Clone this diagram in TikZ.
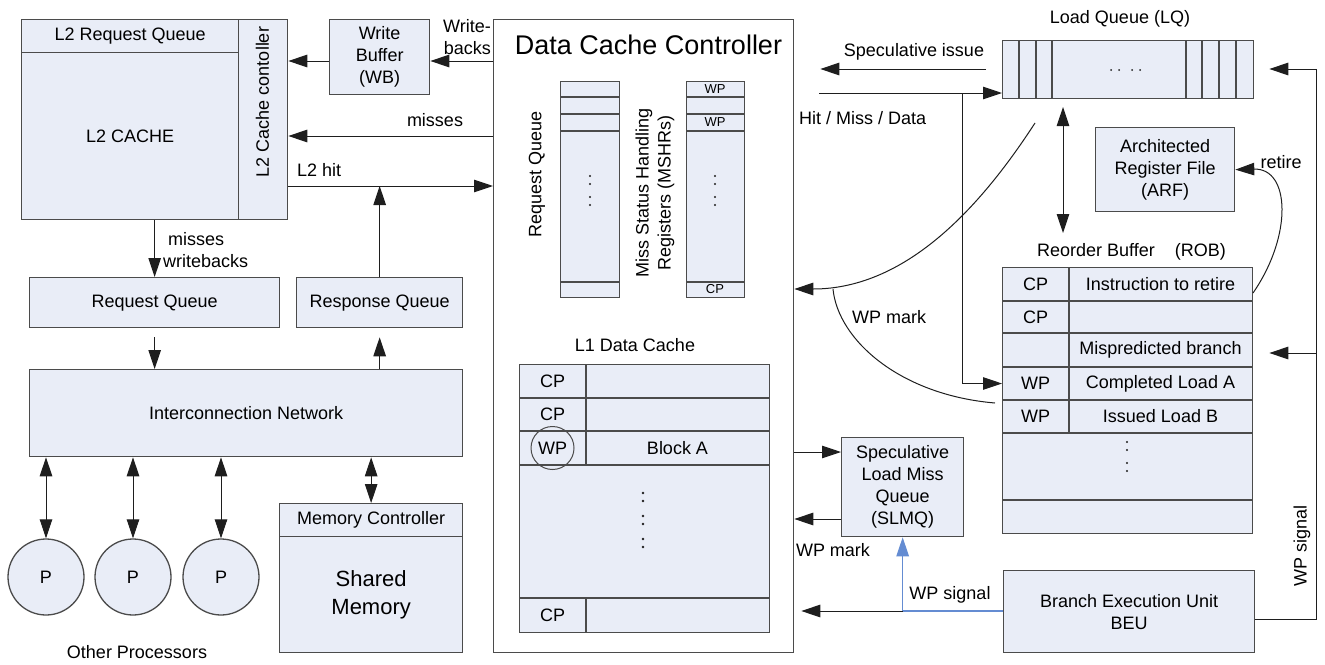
\documentclass[tikz,border=0pt]{standalone}
\usepackage{fontspec}
\setmainfont{Liberation Sans}
\usetikzlibrary{arrows.meta,calc}
\definecolor{boxfill}{RGB}{233,237,247}
\definecolor{boxline}{RGB}{75,75,75}
\definecolor{wirec}{RGB}{30,30,30}
\definecolor{bluewirec}{RGB}{100,140,210}
\tikzset{
  box/.style={draw=boxline, line width=1.3pt, fill=boxfill, inner sep=0pt, anchor=north west},
  proc/.style={circle, draw=boxline, line width=1.3pt, fill=boxfill, inner sep=0pt, minimum size=76pt},
  plain/.style={draw=none, fill=none, inner sep=0pt},
  small/.style={plain, font=\fontsize{13}{15}\selectfont},
  rowline/.style={draw=boxline, line width=1.2pt},
  wire/.style={draw=wirec, line width=1pt},
  arr/.style={wire, -{Triangle[length=19pt,width=12.5pt]}},
  darr/.style={wire, {Triangle[length=19pt,width=12.5pt]}-{Triangle[length=19pt,width=12.5pt]}},
  bluewire/.style={draw=bluewirec, line width=1.2pt},
  bluearr/.style={bluewire, -{Triangle[length=19pt,width=12.5pt]}},
}
\begin{document}
\begin{tikzpicture}[x=1pt, y=-1pt, font=\fontsize{18}{22}\selectfont]
\useasboundingbox (0,0) rectangle (1325,664);

% ---------- L2 block ----------
\node[box, minimum width=217pt, minimum height=33pt] (l2rq) at (21,19) {L2 Request Queue};
\node[box, minimum width=217pt, minimum height=167pt] (l2c) at (21,52) {L2 CACHE};
\node[box, minimum width=49pt, minimum height=200pt] (l2cc) at (238,19) {};
\node[plain, rotate=90] (l2cct) at (262.5,102) {L2 Cache contoller};

% ---------- Write buffer ----------
\node[box, minimum width=100pt, minimum height=75pt, align=center] (wb) at (329,19) {Write\\Buffer\\(WB)};

% ---------- Data cache controller ----------
\node[box, fill=white, minimum width=300pt, minimum height=633pt] (dcc) at (493,19) {};
\node[plain, font=\fontsize{27}{32}\selectfont] (dcct) at (648.5,45) {Data Cache Controller};

\node[box, minimum width=59pt, minimum height=216pt] (drq) at (560,81) {};
\foreach \y in {97,114,131,282} \draw[rowline] (560,\y) -- (619,\y);
\foreach \y in {176,184,197,205} \fill[wirec] (590,\y) circle (1.2pt);
\node[plain, rotate=90] (drqt) at (537,174) {Request Queue};

\node[box, minimum width=58pt, minimum height=216pt] (mshr) at (686,81) {};
\foreach \y in {97,114,131,282} \draw[rowline] (686,\y) -- (744,\y);
\foreach \y in {176,184,197,205} \fill[wirec] (715,\y) circle (1.2pt);
\node[small] (m1) at (715,89) {WP};
\node[small] (m3) at (715,122.5) {WP};
\node[small] (m9) at (715,289.5) {CP};
\node[plain, rotate=90, align=center] (mshrt) at (655,193) {Miss Status Handling\\Registers (MSHRs)};

% L1 data cache
\node[plain] (l1t) at (635,345) {L1 Data Cache};
\node[box, minimum width=250pt, minimum height=268pt] (l1) at (519,364) {};
\foreach \y in {398,431,465,598} \draw[rowline] (519,\y) -- (769,\y);
\draw[rowline] (586,364) -- (586,465);
\draw[rowline] (586,598) -- (586,632);
\node[plain] (c1) at (552.5,381) {CP};
\node[plain] (c2) at (552.5,414.5) {CP};
\node[plain] (c3) at (552.5,448) {WP};
\draw[boxline, line width=1pt] (552.5,448) circle (21.5pt);
\node[plain] (c3b) at (677.5,448) {Block A};
\node[plain] (c9) at (552.5,615) {CP};
\foreach \y in {493,501,516,524,539,547} \fill[wirec] (643,\y) circle (1.3pt);

% ---------- lower left ----------
\node[box, minimum width=250pt, minimum height=50pt] (rqL) at (29,277) {Request Queue};
\node[box, minimum width=166pt, minimum height=50pt] (resp) at (296,277) {Response Queue};
\node[box, minimum width=433pt, minimum height=87pt] (net) at (29,369) {Interconnection Network};
\node[proc] (p1) at (46,577) {P};
\node[proc] (p2) at (133,577) {P};
\node[proc] (p3) at (221,577) {P};
\node[plain] (opt) at (137,652) {Other Processors};
\node[box, minimum width=183pt, minimum height=33pt] (mc) at (279,503) {Memory Controller};
\node[box, minimum width=183pt, minimum height=116pt, align=center, font=\fontsize{22}{28}\selectfont] (sm) at (279,536) {Shared\\Memory};

% ---------- connectors left ----------
\coordinate (yWB) at (0,61);
\coordinate (yMiss) at (0,136);
\coordinate (yHit) at (0,186);
\draw[arr] (dcc.west |- yWB) -- (wb.east |- yWB);
\draw[arr] (wb.west |- yWB) -- (l2cc.east |- yWB);
\draw[arr] (dcc.west |- yMiss) -- (l2cc.east |- yMiss);
\draw[arr] (l2cc.east |- yHit) -- (dcc.west |- yHit);
\draw[arr] (resp.north) -- (resp.north |- yHit);
\draw[arr] (rqL.north |- l2c.south) -- (rqL.north);
\draw[arr, shorten <=9pt] (rqL.south) -- (rqL.south |- net.north);
\draw[arr, shorten >=9pt] (resp.south |- net.north) -- (resp.south);
\draw[darr] (p1.north |- net.south) -- (p1.north);
\draw[darr] (p2.north |- net.south) -- (p2.north);
\draw[darr] (p3.north |- net.south) -- (p3.north);
\draw[darr] (mc.north |- net.south) -- (mc.north);

\node[plain, align=right, anchor=east] (wbl) at (491,37) {Write-\\backs};
\node[plain] (missl) at (435,120) {misses};
\node[plain, anchor=west] (hitl) at (297,170) {L2 hit};
\node[plain, anchor=west] (mwl1) at (168,239) {misses};
\node[plain, anchor=west] (mwl2) at (163,261) {writebacks};

% ---------- right side ----------
\node[plain] (lqt) at (1120,19) {Load Queue (LQ)};
\node[box, minimum width=251pt, minimum height=58pt] (lq) at (1002,40) {};
\foreach \x in {1019,1036,1052,1186,1202,1219,1236} \draw[rowline] (\x,40) -- (\x,98);
\foreach \x in {1111,1119,1132,1140} \fill[wirec] (\x,70) circle (1pt);

\node[box, minimum width=139pt, minimum height=84pt, align=center] (arf) at (1095,127) {Architected\\Register File\\(ARF)};

\node[plain] (robt) at (1131.5,252) {Reorder Buffer\hspace{20pt}(ROB)};
\node[box, minimum width=250pt, minimum height=266pt] (rob) at (1002,267) {};
\foreach \y in {301,333,367,400,433,500} \draw[rowline] (1002,\y) -- (1252,\y);
\draw[rowline] (1069,267) -- (1069,433);
\node[plain] (r1a) at (1035.5,284) {CP};
\node[plain] (r1b) at (1160.5,284) {Instruction to retire};
\node[plain] (r2a) at (1035.5,317) {CP};
\node[plain] (r3b) at (1160.5,350) {Mispredicted branch};
\node[plain] (r4a) at (1035.5,383.5) {WP};
\node[plain] (r4b) at (1160.5,383.5) {Completed Load A};
\node[plain] (r5a) at (1035.5,416.5) {WP};
\node[plain] (r5b) at (1160.5,416.5) {Issued Load B};
\foreach \y in {442,450,463,471} \fill[wirec] (1127,\y) circle (1.2pt);

\node[box, minimum width=122pt, minimum height=99pt, align=center] (slmq) at (841,437) {Speculative\\Load Miss\\Queue\\(SLMQ)};
\node[box, minimum width=251pt, minimum height=82pt, align=center] (beu) at (1003,570) {Branch Execution Unit\\BEU};

% ---------- connectors right ----------
\coordinate (ySpec) at (0,69);
\coordinate (yHMD) at (0,93);
\coordinate (tap) at (962,93);
\coordinate (yCLA) at (0,383.5);
\coordinate (c1s) at (1035,123);
\coordinate (junc) at (833,289);
\coordinate (wpe) at (995,403);
\coordinate (lrTop) at (1063,107);
\coordinate (lrBot) at (1063,233);
\coordinate (retS) at (1253,293);
\coordinate (rx) at (1316,0);
\coordinate (yBEU) at (0,619);
\coordinate (yMis) at (0,353);
\coordinate (ySin) at (0,452);
\coordinate (ySout) at (0,519);
\coordinate (yWPs) at (0,611);

\draw[arr, shorten <=16pt, shorten >=26pt] (lq.west |- ySpec) -- (dcc.east |- ySpec);
\node[plain] (specl) at (914,52) {Speculative issue};
\draw[arr, shorten <=25pt] (dcc.east |- yHMD) -- (lq.west |- yHMD);
\node[plain, anchor=west] (hmdl) at (799,118) {Hit / Miss / Data};
\draw[arr] (tap) |- (rob.west |- yCLA);

\draw[arr] (c1s) .. controls (985,200) and (910,289) .. (dcc.east |- junc);
\draw[wire] (junc) .. controls (838,340) and (900,395) .. (wpe);
\node[plain, anchor=west] (wpml) at (852,317) {WP mark};

\draw[darr] (lrTop) -- (lrBot);
\draw[arr] (retS) .. controls (1293,235) and (1290,168) .. (arf.east);
\node[plain] (retl) at (1281,162) {retire};

\draw[arr, shorten >=15pt] (beu.east |- yBEU) -| (rx |- ySpec) -- (lq.east |- ySpec);
\draw[arr, shorten >=16pt] (rx |- yMis) -- (rob.east |- yMis);
\node[plain, rotate=90] (wpsr) at (1302,546) {WP signal};

\draw[arr] (dcc.east |- ySin) -- (slmq.west |- ySin);
\draw[arr] (slmq.west |- ySout) -- (dcc.east |- ySout);
\node[plain] (wpm2) at (833,550) {WP mark};
\draw[bluewire] (beu.west |- yWPs) -- (slmq.south |- yWPs);
\draw[bluearr] (slmq.south |- yWPs) -- (slmq.south);
\draw[arr, shorten >=7pt] (slmq.south |- yWPs) -- (dcc.east |- yWPs);
\node[plain] (wpsl) at (950,595) {WP signal};
\end{tikzpicture}
\end{document}
